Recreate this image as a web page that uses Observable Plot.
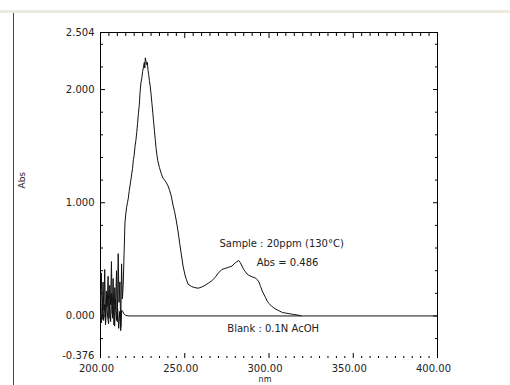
<!DOCTYPE html>
<html><head><meta charset="utf-8">
<script src="https://cdn.jsdelivr.net/npm/d3@7"></script>
<script src="https://cdn.jsdelivr.net/npm/@observablehq/plot@0.6"></script>
<style>
body{margin:0;background:#fff;}
#wrap{position:relative;width:510px;height:385px;overflow:hidden;background:#fff;}
#band{position:absolute;left:0;top:10px;width:510px;height:3px;background:#ebebe0;}
#edge{position:absolute;left:13px;top:13px;width:1px;height:372px;background:#444;}
#wrap svg{position:absolute;left:0;top:0;}
</style></head><body><div id="wrap"><div id="band"></div><div id="edge"></div></div>
<script>
// Sample spectrum: 20ppm (130°C)
const sampleNm = [200.0,200.5,201.0,201.5,202.0,202.5,203.0,203.5,204.0,204.5,205.0,205.5,206.0,206.5,207.0,207.5,208.0,208.5,209.0,209.5,210.0,210.5,211.0,211.5,212.0,212.5,213.0,213.5,214.0,214.5,215.0,215.5,216.0,216.5,217.0,218.0,219.0,219.5,220.0,220.5,221.0,221.5,222.0,222.5,223.0,223.5,224.0,224.5,225.0,225.5,226.0,226.3,226.6,227.0,227.4,227.8,228.2,228.6,229.0,229.5,230.0,230.5,231.0,231.5,232.0,232.5,233.0,233.5,234.0,235.0,236.0,237.0,238.0,239.0,240.0,241.0,242.0,243.0,244.0,245.0,246.0,247.0,248.0,249.0,250.0,251.0,252.0,254.0,256.0,258.0,260.0,262.0,264.0,266.0,268.0,270.0,272.0,274.0,276.0,278.0,280.0,281.0,282.0,283.0,284.0,285.0,286.0,287.0,288.0,290.0,292.0,293.0,294.0,295.0,296.0,297.0,298.0,299.0,300.0,302.0,304.0,306.0,308.0,310.0,312.0,314.0,316.0,318.0,319.0];
const sampleAbs = [0.12,0.38,-0.03,0.30,0.05,0.41,-0.06,0.22,0.08,0.35,-0.02,0.27,0.10,0.48,0.02,0.33,-0.08,0.25,0.06,0.40,-0.05,0.55,0.12,0.30,-0.10,0.46,0.15,0.28,0.55,0.82,0.90,0.96,1.00,1.04,1.10,1.20,1.30,1.38,1.42,1.50,1.55,1.62,1.70,1.79,1.86,1.98,2.06,2.10,2.16,2.20,2.24,2.19,2.28,2.25,2.22,2.24,2.17,2.13,2.08,2.03,1.96,1.88,1.80,1.72,1.64,1.56,1.48,1.42,1.37,1.31,1.26,1.22,1.20,1.18,1.15,1.11,1.06,0.98,0.92,0.84,0.75,0.64,0.54,0.44,0.37,0.32,0.28,0.26,0.25,0.245,0.255,0.27,0.29,0.31,0.34,0.38,0.41,0.42,0.43,0.44,0.47,0.48,0.49,0.47,0.44,0.41,0.39,0.37,0.36,0.345,0.335,0.32,0.30,0.26,0.22,0.19,0.16,0.13,0.11,0.08,0.06,0.045,0.03,0.025,0.02,0.015,0.01,0.005,0.0];

// Blank spectrum: 0.1N AcOH
const blankNm = [200.0,200.6,201.2,201.8,202.4,203.0,203.6,204.2,204.8,205.4,206.0,206.6,207.2,207.8,208.4,209.0,209.6,210.2,210.8,211.4,212.0,212.6,213.2,213.8,215.0,217.0,400.0];
const blankAbs = [0.02,-0.06,0.15,-0.04,0.10,-0.08,0.18,0.00,-0.07,0.12,-0.05,0.20,-0.02,0.08,-0.09,0.14,-0.04,0.06,-0.11,0.04,-0.13,0.05,0.04,0.02,0.005,0.0,0.0];

// Axes
const yLabelTicks = [0, 1, 2, 2.504];
const yTickLabels = ["0.000", "1.000", "2.000", "2.504"];
const yMinTick = [-0.376];
const yMinLabel = ["-0.376"];
const yMajorTicks = [0, 1, 2];
const yMinorTicks = [-0.2, 0.2, 0.4, 0.6, 0.8, 1.2, 1.4, 1.6, 1.8, 2.2, 2.4];
const xLabelTicks = [200, 250, 300, 350, 400];
const xTickLabels = ["200.00", "250.00", "300.00", "350.00", "400.00"];
const xMajorTicks = [250, 300, 350];
const xMinorTicks = [205,210,215,220,225,230,235,240,245,255,260,265,270,275,280,285,290,295,305,310,315,320,325,330,335,340,345,355,360,365,370,375,380,385,390,395];

// Annotations
const sampleLabel = ["Sample : 20ppm (130°C)"];
const absLabel = ["Abs = 0.486"];
const blankLabel = ["Blank : 0.1N AcOH"];
const yTitle = ["Abs"];
const xTitle = ["nm"];

const sample = sampleNm.map((d, i) => ({nm: d, abs: sampleAbs[i]}));
const blank = blankNm.map((d, i) => ({nm: d, abs: blankAbs[i]}));
const yLab = new Map(yLabelTicks.map((v, i) => [v, yTickLabels[i]]));
const yMinLab = new Map(yMinTick.map((v, i) => [v, yMinLabel[i]]));
const xLab = new Map(xLabelTicks.map((v, i) => [v, xTickLabels[i]]));
const blankFmt = () => "";

const chart = Plot.plot({
  width: 510, height: 385,
  marginLeft: 100, marginRight: 73, marginTop: 32, marginBottom: 27,
  x: {domain: [200, 400], label: null},
  y: {domain: [-0.376, 2.504], label: null},
  style: {fontFamily: "'DejaVu Sans', sans-serif", fontSize: "10px", color: "#222", background: "transparent"},
  marks: [
    Plot.ruleX([200, 400], {stroke: "#000", strokeWidth: 1}),
    Plot.ruleY([2.504], {stroke: "#000", strokeWidth: 1}),
    // y axis labels and ticks
    Plot.axisY(yLabelTicks, {anchor: "left", label: null, tickSize: 0, tickPadding: 6, tickFormat: d => yLab.get(d), fill: "#222"}),
    Plot.axisY(yMinTick, {anchor: "left", label: null, tickSize: 0, tickPadding: 6, dy: -3, tickFormat: d => yMinLab.get(d), fill: "#222"}),
    Plot.axisY(yMajorTicks, {anchor: "left", label: null, tickSize: -5, tickFormat: blankFmt, stroke: "#000"}),
    Plot.axisY(yMinorTicks, {anchor: "left", label: null, tickSize: -3, tickFormat: blankFmt, stroke: "#000"}),
    Plot.axisY(yMajorTicks, {anchor: "right", label: null, tickSize: -5, tickFormat: blankFmt, stroke: "#000"}),
    Plot.axisY(yMinorTicks, {anchor: "right", label: null, tickSize: -3, tickFormat: blankFmt, stroke: "#000"}),
    // x axis labels and ticks
    Plot.axisX(xLabelTicks, {anchor: "bottom", label: null, tickSize: 0, tickPadding: 6, dx: -4, tickFormat: d => xLab.get(d), fill: "#222"}),
    Plot.axisX(xMajorTicks, {anchor: "bottom", label: null, tickSize: -5, tickFormat: blankFmt, stroke: "#000"}),
    Plot.axisX(xMinorTicks, {anchor: "bottom", label: null, tickSize: -2, tickFormat: blankFmt, stroke: "#000"}),
    Plot.axisX(xMajorTicks, {anchor: "top", label: null, tickSize: -5, tickFormat: blankFmt, stroke: "#000"}),
    Plot.axisX(xMinorTicks, {anchor: "top", label: null, tickSize: -3, tickFormat: blankFmt, stroke: "#000"}),
    // curves
    Plot.line(blank, {x: "nm", y: "abs", stroke: "#111", strokeWidth: 1}),
    Plot.line(sample, {x: "nm", y: "abs", stroke: "#111", strokeWidth: 1}),
    // annotations
    Plot.text(sampleLabel, {x: 307.5, y: 0.64, fill: "#222"}),
    Plot.text(absLabel, {x: 311, y: 0.47, fill: "#222"}),
    Plot.text(blankLabel, {x: 302.5, y: -0.11, fill: "#222"}),
    Plot.text(yTitle, {frameAnchor: "left", dx: -78, dy: -7, rotate: -90, fill: "#222", fontSize: 9}),
    Plot.text(xTitle, {frameAnchor: "bottom", dx: -4, dy: 23, fill: "#222", fontSize: 8})
  ]
});
document.getElementById("wrap").appendChild(chart);
</script>
</body></html>
